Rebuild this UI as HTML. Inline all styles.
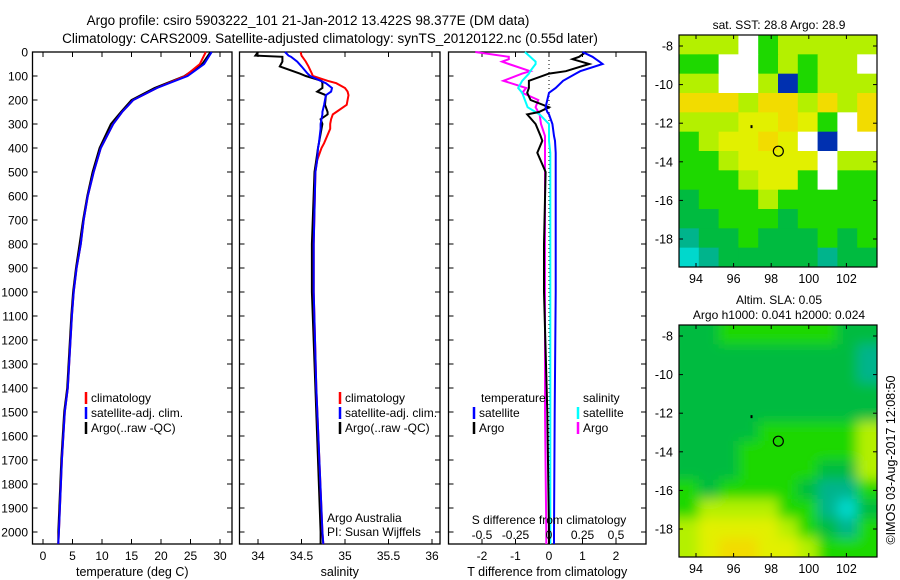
<!DOCTYPE html>
<html><head><meta charset="utf-8">
<style>
body{margin:0;background:#fff;}
svg{display:block;font-family:"Liberation Sans",sans-serif;}
</style></head>
<body>
<svg id="fig" width="900" height="580" viewBox="0 0 900 580">
<defs>
<filter id="blur" x="-5%" y="-5%" width="110%" height="110%"><feGaussianBlur stdDeviation="6"/></filter>
<clipPath id="slaclip"><rect x="679" y="325" width="198" height="232"/></clipPath>
</defs>
<text x="308" y="25" font-size="13.5" text-anchor="middle">Argo profile: csiro 5903222_101 21-Jan-2012 13.422S 98.377E (DM data)</text>
<text x="330" y="43" font-size="13.5" text-anchor="middle">Climatology: CARS2009. Satellite-adjusted climatology: synTS_20120122.nc (0.55d later)</text>
<g id="plots"></g>
<text x="895" y="460" font-size="12.5" text-anchor="middle" transform="rotate(-90 895 460)">©IMOS 03-Aug-2017 12:08:50</text>
</svg>
<script>
// ---- profile data ----
const tDepth = [0,50,100,150,200,250,300,400,500,600,700,800,900,1000,1100,1400,1500,1700,2000,2050];
const tClim  = [27.6,26.6,24.1,19.3,15.3,13.4,11.9,9.8,8.6,7.6,6.9,6.4,5.7,5.2,4.9,4.2,3.7,3.2,2.7,2.6];
const tSat   = [28.6,27.3,24.5,19.3,15.3,13.4,11.9,9.8,8.6,7.6,6.9,6.4,5.7,5.2,4.9,4.2,3.7,3.2,2.7,2.6];
const tArgo  = [28.4,27.0,24.0,18.9,15.0,13.2,11.5,9.6,8.4,7.5,6.8,6.2,5.6,5.1,4.8,4.1,3.6,3.1,2.6,2.6];

const sDepth = [0,15,20,40,60,90,100,120,130,150,165,180,220,250,260,280,300,320,380,400,450,500,800,1000,1400,2000,2050];
const sClim  = [34.49,34.5,34.51,34.55,34.58,34.62,34.63,34.8,34.9,35.0,35.03,35.04,35.02,34.9,34.86,34.84,34.83,34.83,34.76,34.73,34.68,34.66,34.64,34.64,34.67,34.74,34.75];
const sSat   = [34.31,34.35,34.38,34.45,34.5,34.57,34.6,34.72,34.78,34.85,34.84,34.78,34.76,34.74,34.74,34.73,34.72,34.72,34.7,34.69,34.68,34.66,34.64,34.64,34.67,34.74,34.75];
const sArgo  = [34.0,33.97,34.28,34.28,34.25,34.48,34.55,34.73,34.74,34.74,34.68,34.78,34.77,34.8,34.8,34.72,34.74,34.73,34.7,34.69,34.67,34.65,34.62,34.62,34.66,34.72,34.72];

const dDepth = [0,20,30,40,50,80,90,120,150,170,200,230,250,260,300,350,370,420,500,800,1000,1500,2000,2050];
const dTSat  = [1.0,1.3,1.4,1.5,1.6,0.93,0.8,0.42,0.2,0.0,-0.05,-0.1,-0.05,0.0,0.1,0.15,0.18,0.2,0.2,0.2,0.2,0.17,0.15,0.15];
const dTArgo = [1.1,0.9,0.7,0.95,1.2,0.5,0.0,-0.6,-0.6,-0.65,-0.55,0.0,-0.3,-0.65,-0.4,-0.25,-0.2,-0.35,-0.1,-0.15,-0.15,-0.05,0.0,0.0];
const dSSat  = [-0.18,-0.14,-0.12,-0.1,-0.1,-0.14,-0.15,-0.2,-0.23,-0.2,-0.18,-0.16,-0.1,-0.07,0.0,0.0,0.0,0.01,0.01,0.01,0.01,0.01,0.01,0.01];
const dSArgo = [-0.55,-0.3,-0.3,-0.35,-0.3,-0.14,-0.2,-0.34,-0.17,-0.2,-0.08,-0.1,-0.08,-0.07,-0.06,-0.03,-0.03,-0.03,-0.03,-0.03,-0.03,-0.03,-0.02,-0.02];

const depthTicks = [0,100,200,300,400,500,600,700,800,900,1000,1100,1200,1300,1400,1500,1600,1700,1800,1900,2000];
const tempTicks = [0,5,10,15,20,25,30];
const salTicks = [34,34.5,35,35.5,36];
const tdTicks = [-2,-1,0,1,2];
const sdTicks = [-0.5,-0.25,0,0.25,0.5];
const sdTickLabels = ["-0.5","-0.25","0","0.25","0.5"];

// ---- map grids (coarse colour classes) ----
const sstRows = [
"LLLWGLLLLL","GGWWGLGLLW","LLWWLBGLLL","OOOLOOLOLO","LLLYYOYGWO","GLYYOYWBWW",
"GGLYYYYWLL","GGGLYYGWGG","DGGGLGGGGG","DDGGGDGGGG","TDDGDDDGDG","CTDDDDDTDD"];
const slaRows = [
"DDGGGGGGDD","DDDDDDDDDT","DDDDDDDDDT","DDDDDDDDDD","DDDDDDDDDD","DDDDGGGGGL",
"DDDGGGGGGL","DDDGGGGDDL","GDGGGGDTTG","GLLLLGGTCD","LYYYYLGDTG","LYOOYYLGGG"];
const mapLonTicks = [94,96,98,100,102];
const mapLatTicks = [-8,-10,-12,-14,-16,-18];

const NS="http://www.w3.org/2000/svg";
const root=document.getElementById('plots');
function mk(tag,attrs,parent){const e=document.createElementNS(NS,tag);for(const k in attrs)e.setAttribute(k,attrs[k]);(parent||root).appendChild(e);return e;}

const yTop=52, pxPerM=0.24, yBot=544;
const yD = d => yTop + d*pxPerM;

function panel(name,x0,x1,xfn,ticks,labels,xlabel){
  const g=mk('g',{});
  
  
  const r=mk('rect',{x:x0,y:yTop,width:x1-x0,height:yBot-yTop,fill:'none',stroke:'#000','stroke-width':1.3},g);
  
  
  ticks.forEach((t,i)=>{
    const x=xfn(t);
    mk('line',{x1:x,x2:x,y1:yBot,y2:yBot-5,stroke:'#000'},g);
    mk('line',{x1:x,x2:x,y1:yTop,y2:yTop+5,stroke:'#000'},g);
    if(labels){const tx=mk('text',{x:x,y:yBot+16,'font-size':12,'text-anchor':'middle'},g);tx.textContent=labels[i];
      
      }
  });
  depthTicks.forEach(d=>{
    mk('line',{x1:x0,x2:x0+5,y1:yD(d),y2:yD(d),stroke:'#000'},g);
    mk('line',{x1:x1,x2:x1-5,y1:yD(d),y2:yD(d),stroke:'#000'},g);
  });
  const xl=mk('text',{x:(x0+x1)/2,y:yBot+32,'font-size':12.5,'text-anchor':'middle'},g);
  xl.textContent=xlabel;
  
  
  return g;
}
function line(g,name,xs,ds,xfn,color,w){
  const pts=xs.map((v,i)=>xfn(v).toFixed(1)+','+yD(ds[i]).toFixed(1)).join(' ');
  const p=mk('polyline',{points:pts,fill:'none',stroke:color,'stroke-width':w||2},g);
  
  
}
function legend(g,x,y,color,text){
  mk('line',{x1:x,x2:x,y1:y-10,y2:y+2,stroke:color,'stroke-width':2.5},g);
  const t=mk('text',{x:x+5,y:y,'font-size':12},g);t.textContent=text;
  
  
}

depthTicks.forEach(d=>{
  const t=mk('text',{x:28,y:yD(d)+4.5,'font-size':12,'text-anchor':'end'});
  t.textContent=d;
  
  
});

const xT = v => 43 + v*5.9;
const p1=panel('temperature-panel',32.5,232,xT,tempTicks,tempTicks.map(String),'temperature (deg C)');
line(p1,'temp-argo-line',tArgo,tDepth,xT,'#000');
line(p1,'temp-climatology-line',tClim,tDepth,xT,'#f00');
line(p1,'temp-satellite-line',tSat,tDepth,xT,'#00f');
legend(p1,86,402,'#f00','climatology');
legend(p1,86,417,'#00f','satellite-adj. clim.');
legend(p1,86,432,'#000','Argo(..raw -QC)');

const xS = v => 258 + (v-34)*87;
const p2=panel('salinity-panel',239.5,440,xS,salTicks,salTicks.map(String),'salinity');
line(p2,'sal-argo-line',sArgo,sDepth,xS,'#000');
line(p2,'sal-climatology-line',sClim,sDepth,xS,'#f00');
line(p2,'sal-satellite-line',sSat,sDepth,xS,'#00f');
legend(p2,340,402,'#f00','climatology');
legend(p2,340,417,'#00f','satellite-adj. clim.');
legend(p2,340,432,'#000','Argo(..raw -QC)');
[['Argo Australia',522],['PI: Susan Wijffels',536]].forEach(a=>{const t=mk('text',{x:327,y:a[1],'font-size':12},p2);t.textContent=a[0];
  
  });

const xDT = v => 549 + v*33.5;
const xDS = v => 549 + v*134;
const p3=panel('difference-panel',448.5,646,xDT,tdTicks,tdTicks.map(String),'T difference from climatology');
mk('line',{x1:549,x2:549,y1:yTop,y2:yBot,stroke:'#000','stroke-dasharray':'1,3'},p3);
line(p3,'diff-s-argo-line',dSArgo,dDepth,xDS,'#f0f');
line(p3,'diff-s-satellite-line',dSSat,dDepth,xDS,'#0ff');
line(p3,'diff-t-argo-line',dTArgo,dDepth,xDT,'#000');
line(p3,'diff-t-satellite-line',dTSat,dDepth,xDT,'#00f');
let tt=mk('text',{x:481,y:402,'font-size':12},p3);tt.textContent='temperature';


tt=mk('text',{x:583,y:402,'font-size':12},p3);tt.textContent='salinity';


legend(p3,474,417,'#00f','satellite');
legend(p3,474,432,'#000','Argo');
legend(p3,578,417,'#0ff','satellite');
legend(p3,578,432,'#f0f','Argo');
tt=mk('text',{x:549,y:524,'font-size':12,'text-anchor':'middle'},p3);tt.textContent='S difference from climatology';


sdTicks.forEach((s,i)=>{const t=mk('text',{x:xDS(s),y:539,'font-size':12,'text-anchor':'middle'},p3);t.textContent=sdTickLabels[i];
  
  });

const pal={Y:'#e2f000',O:'#f2dc00',L:'#b4f000',G:'#1ed800',D:'#00bb40',T:'#00b48c',C:'#00d8cc',W:'#ffffff',B:'#0030b0'};
function map(name,rows,top,title,smooth){
  const x0=679,x1=877,y0=top,y1=top+232;
  const lonX = lon => 696 + (lon-94)*18.8;
  const latY = lat => top+11 + (-8-lat)*19.3;
  const g=mk('g',{});
  
  
  const clipG=mk('g',smooth?{'clip-path':'url(#slaclip)'}:{},g);
  const cells=mk('g',smooth?{filter:'url(#blur)'}:{},clipG);
  const nr=rows.length,nc=rows[0].length;
  const cw=(x1-x0)/nc,ch=(y1-y0)/nr;
  rows.forEach((row,r)=>{[...row].forEach((c,k)=>{
    const ex=smooth?12:0;
    const rx=x0+k*cw-(k===0?ex:0), ry=y0+r*ch-(r===0?ex:0);
    const rw=cw+0.5+(k===0||k===nc-1?ex:0), rh=ch+0.5+(r===0||r===nr-1?ex:0);
    const rc=mk('rect',{x:rx,y:ry,width:rw,height:rh,fill:pal[c]},cells);
    
    
  });});
  mk('rect',{x:x0,y:y0,width:x1-x0,height:y1-y0,fill:'none',stroke:'#000','stroke-width':1.2},g);
  mapLonTicks.forEach(l=>{const x=lonX(l);
    mk('line',{x1:x,x2:x,y1:y1,y2:y1-4,stroke:'#000'},g);mk('line',{x1:x,x2:x,y1:y0,y2:y0+4,stroke:'#000'},g);
    const t=mk('text',{x:x,y:y1+16,'font-size':12.5,'text-anchor':'middle'},g);t.textContent=l;
    
    });
  mapLatTicks.forEach(l=>{const y=latY(l);
    mk('line',{x1:x0,x2:x0+4,y1:y,y2:y,stroke:'#000'},g);mk('line',{x1:x1,x2:x1-4,y1:y,y2:y,stroke:'#000'},g);
    const t=mk('text',{x:673,y:y+4.5,'font-size':12.5,'text-anchor':'end'},g);t.textContent=l;
    
    });
  const c=mk('circle',{cx:lonX(98.38),cy:latY(-13.45),r:5,fill:'none',stroke:'#000','stroke-width':1.2},g);
  
  
  mk('rect',{x:lonX(96.9),y:latY(-12.1),width:2,height:3,fill:'#000'},g);
  title.forEach((s,i)=>{const t=mk('text',{x:779,y:top-(title.length-1-i)*15-6,'font-size':12,'text-anchor':'middle'},g);t.textContent=s;
    
    });
}
map('sst-map',sstRows,35,['sat. SST: 28.8 Argo: 28.9'],false);
map('sla-map',slaRows,325,['Altim. SLA: 0.05','Argo h1000: 0.041 h2000: 0.024'],true);
</script>
</body></html>
